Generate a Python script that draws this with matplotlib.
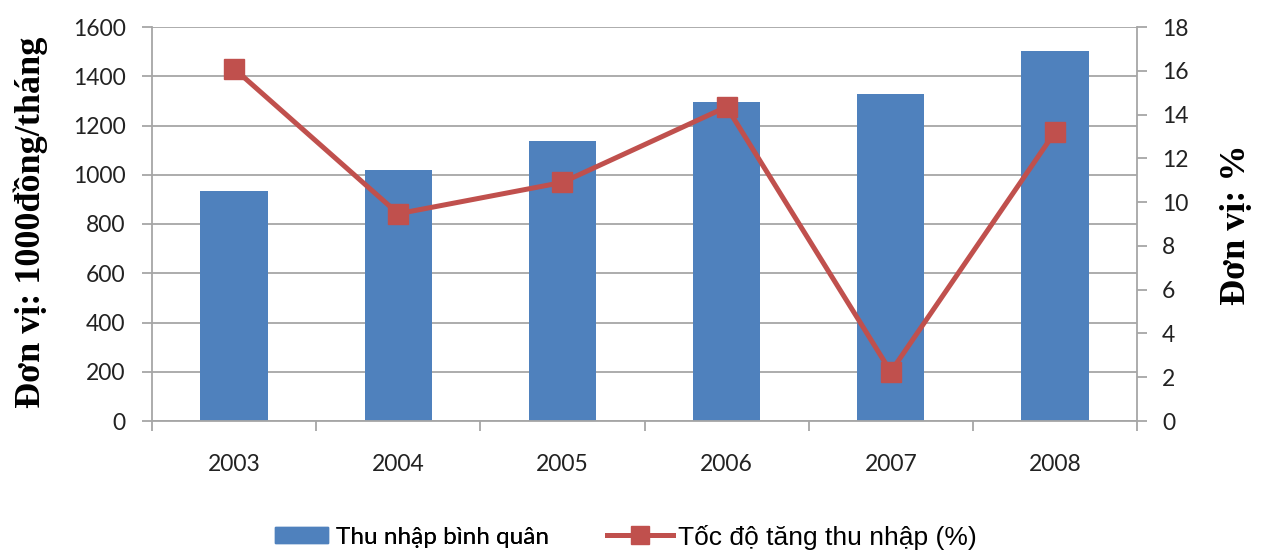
import matplotlib
matplotlib.use("Agg")
import matplotlib.pyplot as plt
from matplotlib.lines import Line2D
from matplotlib.patches import Patch
import numpy as np

years = ["2003", "2004", "2005", "2006", "2007", "2008"]
income = [934, 1021, 1137, 1295, 1327, 1503]
growth = [16.1, 9.47, 10.9, 14.35, 2.25, 13.2]

bar_color = "#4F81BD"
line_color = "#C0504D"
grid_color = "#A6A6A6"
tick_font = "Lato"
tick_size = 16.5

fig = plt.figure(figsize=(12.62, 5.5), dpi=100)
ax = fig.add_axes([152/1262, 1-421/550, (1137-152)/1262, (421-27)/550])
x = np.arange(len(years))
ax.bar(x, income, width=0.41, color=bar_color, zorder=2)
ax.set_xlim(-0.5, len(years)-0.5)
ax.set_ylim(0, 1600)
ax.set_yticks(np.arange(0, 1601, 200))
ax.yaxis.grid(True, color=grid_color, linewidth=1.3, zorder=0)
ax.set_axisbelow(True)
ax.set_xticks(x)
ax.set_xticklabels(years)
ax.set_xticks(np.arange(-0.5, len(years), 1), minor=True)
ax.tick_params(axis="x", which="major", length=0, pad=24, labelsize=tick_size, colors="#222222")
ax.tick_params(axis="x", which="minor", length=7, width=1.3, color=grid_color, direction="out")
ax.tick_params(axis="y", length=7, width=1.3, color=grid_color, direction="out", labelsize=tick_size, labelcolor="#222222", pad=12)
for lbl in ax.get_xticklabels() + ax.get_yticklabels():
    lbl.set_family(tick_font)
for s in ["top", "right"]:
    ax.spines[s].set_visible(False)
for s in ["left", "bottom"]:
    ax.spines[s].set_color(grid_color)
    ax.spines[s].set_linewidth(1.3)
ax.set_ylabel("Đơn vị: 1000đồng/tháng", family="Liberation Serif", fontweight="bold", fontsize=26)
ax.yaxis.set_label_coords((48-152)/985, 0.505)

ax2 = ax.twinx()
ax2.plot(x, growth, color=line_color, linewidth=3.6, marker="s", markersize=15, zorder=3)
ax2.set_ylim(0, 18)
ax2.set_yticks(np.arange(0, 19, 2))
ax2.tick_params(axis="y", length=7, width=1.3, color=grid_color, direction="out", labelsize=tick_size, labelcolor="#222222", pad=11)
for lbl in ax2.get_yticklabels():
    lbl.set_family(tick_font)
for s in ["top", "left", "bottom"]:
    ax2.spines[s].set_visible(False)
ax2.spines["right"].set_color(grid_color)
ax2.spines["right"].set_linewidth(1.3)
ax2.set_ylabel("Đơn vị: %", family="Liberation Serif", fontweight="bold", fontsize=26)
ax2.yaxis.set_label_coords((1220-152)/985, 0.497)

leg_y = 1 - 537/550
leg1 = fig.legend([Patch(color=bar_color)], ["Thu nhập bình quân"], loc="center left",
                  bbox_to_anchor=(275/1262, leg_y), frameon=False, borderpad=0, borderaxespad=0,
                  prop={"family": tick_font, "size": 17.5}, handlelength=2.2, handleheight=0.65,
                  handletextpad=0.33)
leg2 = fig.legend([Line2D([0], [0], color=line_color, linewidth=3.6, marker="s", markersize=13)],
                  ["Tốc độ tăng thu nhập (%)"], loc="center left",
                  bbox_to_anchor=(607/1262, leg_y), frameon=False, borderpad=0, borderaxespad=0,
                  prop={"family": "Liberation Sans", "size": 19}, handlelength=2.5,
                  handletextpad=0.2)
fig.add_artist(leg1)

fig.savefig("out.png", dpi=100, facecolor="white")
